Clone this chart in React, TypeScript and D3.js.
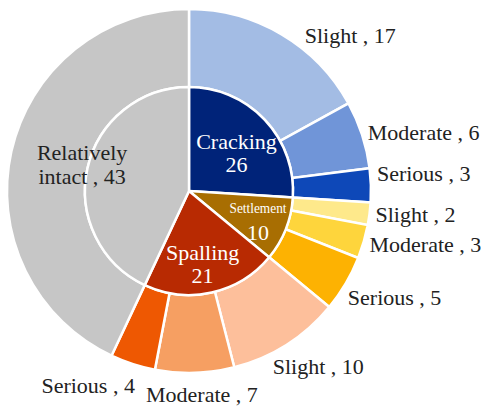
import React from "react";
import * as d3 from "d3";

// inner ring: damage type
const damageTypes = ["Cracking", "Settlement", "Spalling", "Relatively intact"];
const damageCounts = [26, 10, 21, 43];
const damageColors = ["#002379", "#a86e02", "#b82a02", "#c6c6c6"];

// outer ring: severity within each damage type
const severityNames = ["Slight", "Moderate", "Serious"];
const crackingCounts = [17, 6, 3];
const settlementCounts = [2, 3, 5];
const spallingCounts = [10, 7, 4];
const crackingColors = ["#a3bce4", "#7095d8", "#0e48b8"];
const settlementColors = ["#fee98b", "#fed53c", "#fdb202"];
const spallingColors = ["#fdbf9b", "#f69f62", "#ee5802"];

// label nudges [dx, dy] (layout only)
const outerNudge: [number, number][] = [
  [20, 6], [0, 0], [0, -12],
  [0, 0], [0, 1], [-3, 11],
  [-17, 17], [7, 16], [4, 16],
];
const innerNudge: [number, number][] = [[2, 6], [11, 3], [0, 14], [-46, -13]];

const W = 481;
const H = 410;
const cx = 189;
const cy = 191;
const rIn = 104;
const rOut = 182;

type Seg = { name: string; value: number; color: string; label: boolean };

export default function App() {
  const inner: Seg[] = damageTypes.map((d, i) => ({
    name: d,
    value: damageCounts[i],
    color: damageColors[i],
    label: true,
  }));

  const groups = [
    [crackingCounts, crackingColors],
    [settlementCounts, settlementColors],
    [spallingCounts, spallingColors],
  ] as const;
  const outer: Seg[] = [];
  groups.forEach(([vals, cols]) => {
    vals.forEach((v, j) =>
      outer.push({ name: severityNames[j], value: v, color: cols[j], label: true })
    );
  });
  outer.push({ name: "", value: damageCounts[3], color: damageColors[3], label: false });

  const pie = d3.pie<Seg>().value((d) => d.value).sort(null);
  const innerArcs = pie(inner);
  const outerArcs = pie(outer);

  const innerArc = d3.arc<d3.PieArcDatum<Seg>>().innerRadius(0).outerRadius(rIn);
  const outerArc = d3.arc<d3.PieArcDatum<Seg>>().innerRadius(rIn).outerRadius(rOut);

  const fontStyle = { fontFamily: '"Liberation Serif"' };
  const fs = 22;
  const labelR = rOut + 6;

  return (
    <svg
      width={W}
      height={H}
      style={{ position: "absolute", left: 0, top: 0, background: "#fff" }}
    >
      <g transform={`translate(${cx},${cy})`}>
        {outerArcs.map((a, i) => (
          <path key={"o" + i} d={outerArc(a) || ""} fill={a.data.color} stroke="#fff" strokeWidth={2.5} />
        ))}
        {innerArcs.map((a, i) => (
          <path key={"i" + i} d={innerArc(a) || ""} fill={a.data.color} stroke="#fff" strokeWidth={2.5} />
        ))}

        {/* outer labels */}
        {outerArcs
          .filter((a) => a.data.label)
          .map((a, i) => {
            const mid = (a.startAngle + a.endAngle) / 2;
            const s = Math.sin(mid);
            const x = s * labelR + outerNudge[i][0];
            const y = -Math.cos(mid) * labelR + outerNudge[i][1];
            const anchor = s > 0.3 ? "start" : s < -0.3 ? "end" : "middle";
            return (
              <text
                key={"ol" + i}
                x={x}
                y={y}
                textAnchor={anchor}
                dominantBaseline="central"
                style={fontStyle}
                fontSize={fs}
                fill="#222"
              >
                {`${a.data.name} , ${a.data.value}`}
              </text>
            );
          })}

        {/* inner labels */}
        {innerArcs.map((a, i) => {
          const mid = (a.startAngle + a.endAngle) / 2;
          const r = rIn * 0.6;
          const x = Math.sin(mid) * r + innerNudge[i][0];
          const y = -Math.cos(mid) * r + innerNudge[i][1];
          if (i === 3) {
            return (
              <text key="il3" x={x} y={y} style={fontStyle} fontSize={fs} fill="#222" textAnchor="middle">
                <tspan x={x} dy="-0.2em">Relatively</tspan>
                <tspan x={x} dy="1.08em">{`intact , ${a.data.value}`}</tspan>
              </text>
            );
          }
          const small = a.data.name === "Settlement";
          return (
            <text key={"il" + i} x={x} y={y} style={fontStyle} fill="#fff" textAnchor="middle">
              <tspan
                x={x}
                dy="-0.25em"
                fontSize={small ? 15 : fs}
                textLength={small ? 57 : undefined}
                lengthAdjust={small ? "spacingAndGlyphs" : undefined}
              >
                {a.data.name}
              </tspan>
              <tspan x={x} dy={small ? "1.2em" : "1.05em"} fontSize={fs}>
                {a.data.value}
              </tspan>
            </text>
          );
        })}
      </g>
    </svg>
  );
}
